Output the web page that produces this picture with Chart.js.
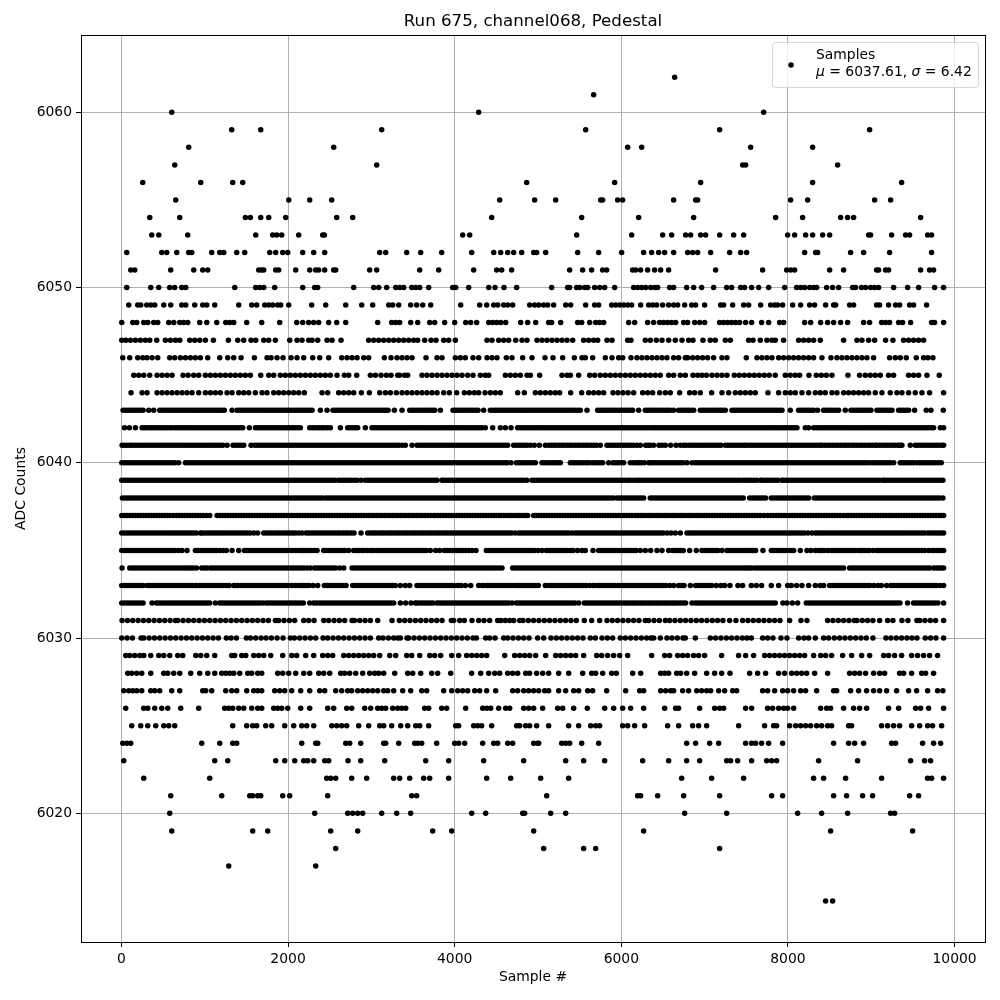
<!DOCTYPE html>
<html>
<head>
<meta charset="utf-8">
<title>Run 675, channel068, Pedestal</title>
<script src="https://cdn.jsdelivr.net/npm/chart.js@4/dist/chart.umd.min.js"></script>
<style>
  html, body { margin: 0; padding: 0; background: #fff; }
  #wrap { position: relative; width: 1000px; height: 1000px; }
</style>
</head>
<body>
<div id="wrap"><canvas id="chart" width="1000" height="1000"></canvas></div>
<script>
// Sample numbers, one list per ADC level
const s6062 = [6640];
const s6061 = [5668];
const s6060 = [604,4288,7708];
const s6059 = [1324,1672,3124,5572,7180,8980];
const s6058 = [808,2548,6076,6244,7552,8296];
const s6057 = [640,3064,7456,7492,8596];
const s6056 = [256,952,1336,1456,4864,5920,6952,8296,9364];
const s6055 = [652,2008,2260,2524,4540,4960,5212,5752,5776,5956,6016,6628,6892,6916,8032,8236,9040,9232];
const s6054 = [340,700,1488,1548,1672,1768,1972,2584,2776,4444,5524,6208,6868,7852,8176,8632,8716,8788,9592];
const s6053 = [364,448,796,1612,1816,1864,1924,2128,2416,2436,4096,4180,5464,6124,6496,6604,6772,6832,6952,7012,7180,7348,7468,7996,8080,8212,8296,8416,8500,8968,8992,9244,9412,9460,9676,9724];
const s6052 = [64,484,544,664,808,844,1084,1180,1228,1384,1480,1780,1852,1936,1996,2176,2308,2440,3100,3172,3424,3592,3844,4204,4468,4552,4636,4708,4804,4948,4984,5092,5476,5728,6004,6268,6364,6448,6520,6628,6796,6856,6916,7072,7300,7432,7504,8200,8332,8356,8752,8908,9220,9724];
const s6051 = [112,160,592,868,976,1036,1648,1680,1708,1852,1888,2092,2260,2332,2368,2440,2548,2572,2980,3064,3580,3808,4228,4504,4564,4684,5380,5536,5644,5776,5824,6136,6172,6232,6316,6400,6472,6568,7132,7696,7984,8032,8080,8500,8668,9064,9088,9172,9208,9592,9700,9748];
const s6050 = [64,352,448,580,640,724,772,1360,1612,1660,1708,1840,2176,2320,2356,2788,3028,3088,3184,3292,3340,3388,3484,3532,3580,3688,3976,4012,4168,4408,4484,4592,4744,5164,5356,5380,5464,5500,5560,5596,5680,5740,5800,5920,6148,6196,6244,6292,6352,6400,6436,6580,6628,6784,6868,6964,7108,7264,7324,7432,7480,7564,7648,7768,7960,8104,8152,8200,8260,8308,8344,8464,8536,8608,8776,8812,8884,8932,8992,9040,9088,9268,9436,9568,9760,9868];
const s6049 = [88,196,232,304,352,400,508,592,724,772,880,976,1024,1120,1408,1564,1624,1720,1768,1816,1876,1912,2008,2284,2452,2692,2884,3016,3208,3256,3328,3472,3544,3616,3712,4072,4300,4384,4468,4516,4588,4636,4696,4900,4960,5008,5068,5116,5188,5332,5392,5572,5680,5728,5884,5932,5980,6028,6076,6124,6232,6328,6376,6424,6496,6568,6628,6676,6760,6844,6892,7000,7192,7228,7336,7468,7528,7672,7792,7840,7876,7936,8056,8152,8260,8320,8452,8548,8572,8740,8788,9064,9100,9208,9292,9340,9460,9508,9664];
const s6048 = [4,136,184,268,316,388,436,568,628,700,748,796,940,1024,1144,1252,1300,1348,1504,1684,1900,2104,2176,2248,2308,2368,2488,2584,2692,3076,3244,3292,3340,3472,3556,3700,3760,3880,4000,4132,4192,4264,4408,4456,4504,4552,4612,4792,4876,4972,5128,5164,5272,5476,5524,5620,5692,5740,5788,6088,6160,6316,6388,6460,6508,6556,6604,6652,6748,6796,6880,6940,7000,7180,7228,7276,7324,7372,7420,7492,7564,7684,7768,7900,7948,8200,8272,8392,8476,8548,8632,8716,8908,8980,9124,9172,9220,9328,9376,9472,9724,9760,9868];
const s6047 = [4,52,108,168,228,288,340,424,528,588,648,700,820,880,940,1008,1104,1284,1396,1468,1556,1612,1708,1768,1848,2020,2108,2168,2248,2288,2356,2468,2528,2636,2968,3028,3088,3148,3208,3268,3328,3388,3448,3508,3556,3640,3716,3776,3868,3928,4008,4388,4448,4528,4588,4648,4732,4808,4868,4988,5048,5108,5168,5228,5288,5348,5416,5548,5608,5668,5716,5828,5888,6076,6116,6288,6348,6420,6488,6568,6648,6728,6808,6860,6980,7068,7128,7248,7308,7528,7580,7668,7748,7808,7848,7948,8128,8188,8248,8308,8388,8668,8828,8888,8968,9040,9172,9260,9388,9448,9508,9568,9628];
const s6046 = [16,100,196,256,308,368,436,580,640,708,768,828,888,948,1036,1180,1276,1348,1436,1596,1748,1796,1868,1940,2036,2108,2188,2296,2380,2488,2644,2708,2768,2828,2908,2968,3156,3236,3308,3368,3428,3488,3656,3788,3848,4008,4068,4128,4220,4288,4388,4448,4508,4620,4688,4816,4928,5084,5180,5296,5436,5528,5568,5656,5808,5888,5968,6016,6116,6188,6248,6308,6368,6428,6488,6548,6628,6688,6768,6796,6856,6916,6976,7036,7108,7208,7268,7500,7628,7688,7748,7808,7888,7948,8008,8068,8128,8188,8248,8308,8408,8516,8588,8648,8708,8768,8828,8888,8948,9028,9220,9288,9348,9420,9540,9628,9680,9740];
const s6045 = [148,208,268,340,428,488,548,608,740,800,868,928,1008,1068,1128,1188,1248,1308,1368,1428,1488,1548,1672,1768,1828,1908,1968,2028,2088,2148,2208,2268,2328,2388,2448,2508,2588,2676,2728,2824,2988,3048,3116,3180,3236,3316,3340,3400,3436,3608,3668,3728,3788,3848,3908,3968,4028,4088,4156,4220,4308,4368,4408,4608,4668,4728,4788,4868,4908,5020,5288,5348,5388,5488,5620,5680,5748,5808,5868,5928,5988,6048,6108,6168,6228,6288,6348,6408,6468,6568,6628,6708,6768,6860,6916,6968,7020,7088,7148,7208,7268,7356,7416,7476,7536,7596,7656,7716,7776,7848,7968,8028,8088,8140,8252,8340,8400,8460,8528,8720,8860,8928,8988,9048,9108,9208,9268,9448,9508,9568,9668,9816];
const s6044 = [116,248,308,428,488,548,608,668,728,788,848,928,1008,1068,1128,1188,1268,1328,1408,1468,1528,1608,1688,1748,1828,1888,1948,2008,2068,2128,2196,2408,2476,2608,2668,2728,2788,2880,2976,3100,3168,3228,3300,3368,3428,3488,3548,3608,3668,3728,3788,3868,3936,4024,4116,4176,4236,4288,4364,4428,4488,4548,4756,4836,4968,5028,5088,5148,5208,5260,5392,5524,5608,5668,5728,5788,5900,5960,6020,6080,6148,6256,6316,6376,6460,6528,6588,6700,6820,6880,6948,7084,7208,7288,7368,7428,7488,7548,7608,7760,7888,7968,8028,8088,8168,8248,8328,8388,8448,8528,8588,8668,8728,8788,8848,8908,8968,9048,9128,9228,9308,9368,9448,9528,9608,9700,9868];
const s6043 = [20,80,140,200,260,328,388,460,520,580,640,700,760,820,880,940,1000,1060,1120,1180,1236,1328,1388,1448,1508,1568,1628,1688,1748,1808,1868,1928,1988,2048,2108,2168,2228,2288,2388,2468,2540,2600,2660,2720,2780,2840,2900,2960,3020,3080,3140,3200,3276,3368,3460,3520,3580,3640,3700,3760,3828,3980,4040,4100,4160,4220,4280,4348,4428,4488,4548,4608,4668,4728,4788,4848,4908,4968,5028,5088,5148,5208,5268,5328,5388,5448,5508,5588,5716,5776,5836,5896,5956,6016,6076,6136,6208,6288,6348,6408,6468,6528,6588,6628,6688,6748,6808,6868,6948,7008,7068,7128,7188,7248,7328,7388,7448,7508,7568,7628,7688,7748,7808,7868,7928,8028,8128,8188,8248,8308,8356,8428,8488,8548,8608,8688,8756,8816,8876,8936,8996,9068,9128,9188,9248,9328,9388,9448,9520,9660,9716,9864];
const s6042 = [36,96,168,248,308,368,428,488,548,608,676,736,796,856,916,976,1036,1096,1156,1216,1276,1336,1396,1456,1536,1608,1668,1728,1788,1848,1908,1968,2028,2088,2148,2260,2320,2380,2440,2508,2628,2716,2776,2836,2928,3008,3068,3128,3188,3248,3308,3368,3428,3488,3548,3608,3668,3728,3788,3848,3908,3968,4028,4088,4148,4208,4268,4328,4368,4456,4548,4608,4676,4756,4816,4876,4936,4996,5056,5116,5176,5236,5296,5356,5416,5476,5536,5596,5656,5716,5776,5836,5896,5956,6016,6076,6136,6196,6256,6316,6376,6428,6488,6548,6608,6668,6728,6788,6848,6908,6968,7028,7088,7148,7208,7268,7328,7388,7448,7508,7568,7628,7688,7748,7808,7868,7928,7988,8048,8108,8208,8248,8308,8368,8428,8488,8548,8608,8668,8728,8788,8848,8908,8968,9028,9088,9148,9208,9268,9328,9388,9448,9508,9568,9628,9688,9748,9828,9868];
const s6041 = [8,68,128,192,256,320,384,448,512,576,640,704,768,832,896,960,1024,1088,1152,1216,1268,1340,1404,1468,1556,1600,1664,1728,1792,1856,1920,1984,2048,2112,2176,2240,2304,2368,2432,2496,2560,2624,2688,2752,2816,2880,2944,3008,3072,3136,3200,3264,3328,3368,3408,3488,3548,3612,3676,3740,3804,3868,3932,3996,4028,4060,4124,4188,4252,4316,4380,4444,4508,4572,4636,4708,4740,4804,4868,4908,4956,5016,5088,5128,5192,5256,5320,5384,5448,5512,5576,5640,5704,5748,5828,5892,5956,6020,6084,6148,6188,6228,6292,6348,6388,6452,6488,6528,6592,6656,6708,6748,6812,6876,6940,7004,7068,7132,7196,7248,7280,7344,7408,7472,7496,7528,7592,7656,7720,7784,7848,7912,7976,8040,8104,8168,8232,8296,8360,8388,8408,8472,8536,8600,8664,8728,8792,8856,8888,8952,9016,9048,9068,9132,9196,9260,9324,9348,9368,9468,9528,9592,9656,9720,9784,9848,9868];
const s6040 = [4,68,132,196,260,324,388,452,516,580,644,688,768,832,896,960,1024,1088,1152,1216,1280,1344,1408,1472,1536,1600,1664,1728,1792,1856,1920,1984,2048,2112,2176,2240,2304,2368,2432,2496,2560,2624,2688,2752,2816,2880,2944,3008,3072,3136,3200,3264,3328,3392,3456,3520,3584,3648,3712,3776,3840,3904,3968,4032,4096,4160,4224,4288,4352,4416,4480,4544,4608,4628,4676,4740,4804,4868,4932,4968,5048,5112,5176,5240,5268,5388,5452,5516,5580,5608,5648,5712,5776,5848,5900,5964,6028,6108,6148,6212,6276,6328,6356,6420,6484,6548,6612,6676,6740,6788,6848,6888,6952,7016,7080,7144,7208,7272,7336,7400,7464,7528,7592,7656,7720,7784,7848,7912,7976,8040,8104,8168,8232,8296,8360,8424,8488,8552,8616,8680,8744,8808,8872,8936,8968,9008,9072,9136,9200,9228,9268,9348,9380,9444,9508,9548,9612,9676,9740,9804,9840];
const s6039 = [4,68,132,196,260,324,388,452,516,580,644,708,772,836,900,964,1028,1092,1156,1220,1284,1348,1412,1476,1540,1604,1668,1732,1796,1860,1924,1988,2052,2116,2180,2244,2308,2372,2436,2500,2564,2608,2636,2700,2764,2828,2876,2928,2992,3056,3120,3184,3248,3312,3376,3440,3504,3568,3596,3660,3724,3788,3848,3868,3932,3996,4060,4124,4188,4252,4316,4380,4444,4508,4572,4636,4700,4764,4828,4868,4928,4992,5056,5120,5184,5248,5312,5376,5440,5504,5568,5632,5696,5760,5824,5888,5952,6016,6080,6108,6148,6212,6276,6340,6404,6468,6532,6596,6660,6724,6788,6852,6916,6980,7044,7108,7172,7236,7300,7364,7428,7468,7496,7560,7624,7668,7688,7752,7816,7880,7928,7948,8012,8076,8140,8204,8268,8332,8396,8460,8524,8588,8652,8716,8780,8844,8908,8972,9036,9100,9140,9156,9220,9284,9348,9412,9476,9540,9604,9668,9732,9796,9860];
const s6038 = [12,76,140,204,268,332,396,460,524,588,652,716,780,844,908,972,1036,1100,1164,1228,1292,1356,1420,1484,1548,1612,1676,1740,1804,1868,1932,1996,2060,2124,2188,2252,2316,2380,2408,2448,2512,2576,2640,2704,2768,2832,2896,2960,3024,3088,3152,3216,3280,3344,3408,3472,3536,3600,3664,3728,3792,3856,3920,3984,4048,4112,4176,4240,4304,4368,4432,4496,4560,4624,4688,4752,4816,4880,4944,5008,5072,5136,5200,5264,5328,5392,5456,5520,5584,5648,5712,5776,5840,5904,5948,6012,6076,6140,6204,6268,6348,6376,6440,6504,6568,6632,6696,6760,6824,6888,6952,7016,7080,7144,7208,7272,7336,7400,7464,7540,7604,7668,7732,7800,7864,7928,7992,8056,8120,8184,8248,8316,8380,8444,8508,8572,8636,8700,8764,8828,8892,8956,9020,9084,9148,9212,9276,9340,9404,9468,9532,9596,9660,9724,9788,9860];
const s6037 = [4,68,132,196,260,324,388,452,516,580,620,660,724,788,852,916,980,1020,1060,1148,1180,1244,1308,1372,1436,1500,1564,1628,1692,1756,1820,1884,1948,2012,2076,2140,2204,2268,2332,2396,2460,2524,2588,2652,2716,2780,2844,2908,2972,3036,3100,3164,3228,3292,3356,3420,3484,3548,3612,3676,3748,3768,3832,3896,3960,4024,4088,4152,4216,4280,4344,4408,4472,4528,4556,4620,4684,4748,4812,4876,4948,4976,5040,5104,5168,5232,5296,5360,5424,5488,5552,5616,5680,5744,5808,5872,5936,6000,6064,6128,6168,6196,6260,6324,6388,6452,6516,6580,6644,6708,6772,6836,6900,6964,7028,7092,7156,7220,7284,7348,7412,7476,7540,7604,7668,7756,7796,7860,7924,7988,8052,8116,8180,8244,8308,8372,8436,8500,8564,8628,8708,8728,8792,8856,8920,8984,9048,9112,9176,9208,9236,9300,9364,9428,9492,9556,9620,9684,9748,9812,9868];
const s6036 = [4,68,132,196,260,324,388,452,516,580,644,708,772,836,900,948,968,1032,1096,1160,1224,1288,1352,1416,1480,1544,1636,1708,1772,1836,1900,1964,2028,2092,2168,2216,2280,2344,2408,2472,2536,2600,2664,2728,2792,2876,2956,3020,3084,3148,3212,3276,3340,3404,3468,3532,3596,3660,3724,3788,3852,3916,3980,4044,4108,4172,4236,4300,4364,4428,4492,4556,4620,4684,4768,4796,4860,4924,4988,5052,5116,5180,5244,5308,5372,5448,5480,5544,5608,5672,5736,5800,5864,5928,5992,6056,6120,6184,6248,6312,6376,6440,6504,6596,6648,6708,6788,6852,6916,6980,7044,7108,7172,7236,7300,7364,7428,7492,7556,7620,7684,7748,7812,7876,7940,8004,8068,8132,8196,8288,8328,8392,8456,8520,8584,8648,8712,8776,8840,8904,8968,9032,9096,9160,9224,9288,9352,9416,9480,9544,9608,9640,9680,9744,9808,9868];
const s6035 = [4,68,132,196,260,324,388,452,516,580,644,728,788,888,952,1016,1080,1144,1220,1260,1328,1408,1476,1540,1604,1668,1732,1796,1860,1924,1988,2052,2128,2156,2220,2284,2348,2428,2492,2556,2620,2684,2728,2788,2852,2916,2996,3028,3092,3156,3220,3284,3348,3412,3476,3540,3604,3660,3708,3772,3820,3876,3940,4004,4068,4132,4208,4256,4380,4444,4508,4572,4636,4700,4764,4828,4892,4956,5048,5100,5164,5228,5292,5356,5420,5528,5568,5660,5728,5792,5856,5920,5984,6048,6112,6176,6228,6288,6352,6428,6488,6568,6616,6680,6744,6820,6900,6968,7032,7096,7160,7208,7268,7332,7396,7460,7520,7548,7612,7700,7800,7864,7928,7992,8068,8148,8228,8276,8328,8368,8432,8516,8548,8612,8676,8740,8808,8848,8912,8976,9068,9096,9160,9224,9288,9352,9416,9480,9544,9608,9688,9728,9792,9868];
const s6034 = [8,100,164,228,292,356,420,484,548,612,676,740,804,860,900,964,1028,1068,1132,1196,1260,1324,1388,1420,1484,1548,1612,1676,1740,1804,1868,1932,1996,2060,2124,2188,2268,2316,2380,2444,2508,2572,2668,2768,2832,2896,2960,3024,3088,3152,3216,3280,3344,3408,3472,3536,3600,3664,3728,3792,3856,3920,3984,4048,4112,4176,4240,4304,4368,4432,4496,4568,4696,4760,4824,4888,4952,5016,5080,5144,5208,5272,5336,5400,5464,5528,5592,5656,5720,5784,5848,5912,5976,6040,6104,6168,6232,6296,6360,6424,6488,6552,6616,6680,6744,6808,6872,6936,7000,7064,7128,7192,7256,7320,7384,7448,7512,7568,7608,7672,7736,7800,7864,7928,7992,8056,8120,8184,8248,8312,8376,8440,8504,8568,8632,8668,8740,8804,8868,8932,8996,9060,9124,9188,9252,9316,9380,9444,9508,9572,9636,9700,9748,9812,9868];
const s6033 = [4,68,132,196,260,308,340,404,468,532,596,660,724,788,852,888,908,972,1036,1100,1164,1228,1292,1348,1368,1432,1496,1560,1624,1688,1752,1816,1880,1944,2008,2088,2124,2188,2252,2300,2356,2436,2500,2564,2628,2696,2776,2840,2904,2968,3032,3096,3160,3224,3288,3348,3408,3460,3548,3612,3676,3740,3804,3868,3932,3996,4076,4128,4192,4288,4328,4392,4456,4520,4584,4648,4716,4748,4812,4876,4940,5004,5088,5128,5192,5256,5320,5384,5448,5512,5576,5660,5700,5764,5828,5892,5956,6020,6084,6148,6212,6276,6340,6404,6468,6532,6628,6688,6752,6828,6892,6956,7020,7084,7196,7240,7304,7400,7456,7560,7620,7684,7800,7888,7996,8040,8104,8168,8248,8328,8388,8428,8500,8536,8600,8664,8728,8792,8856,8920,8984,9080,9120,9184,9236,9268,9332,9396,9460,9524,9588,9652,9716,9780,9868];
const s6032 = [4,68,132,196,260,368,420,484,548,612,676,740,804,868,932,996,1060,1128,1180,1244,1308,1372,1436,1500,1564,1628,1696,1736,1800,1864,1928,1992,2056,2120,2184,2260,2308,2372,2436,2500,2564,2628,2692,2756,2820,2884,2948,3012,3076,3140,3204,3268,3348,3412,3476,3528,3548,3612,3676,3740,3788,3816,3880,3944,4008,4072,4136,4200,4264,4328,4392,4456,4520,4584,4648,4688,4740,4804,4868,4932,4996,5060,5124,5188,5252,5316,5380,5444,5488,5556,5620,5684,5748,5812,5876,5940,6004,6068,6132,6196,6260,6324,6388,6452,6516,6580,6644,6708,6772,6848,6888,6952,7016,7080,7144,7208,7272,7336,7400,7464,7528,7592,7656,7720,7784,7848,7940,7988,8052,8116,8220,8256,8320,8384,8448,8512,8576,8640,8704,8768,8832,8896,8960,9024,9088,9152,9216,9280,9344,9436,9508,9572,9636,9700,9764,9868];
const s6031 = [8,72,136,200,264,328,392,456,520,584,648,676,740,804,868,932,996,1060,1124,1188,1252,1316,1380,1444,1508,1572,1636,1700,1764,1848,1888,1952,2016,2080,2188,2248,2312,2428,2488,2552,2616,2680,2768,2796,2860,2924,2988,3076,3248,3336,3400,3464,3528,3592,3656,3720,3784,3848,3960,3988,4060,4116,4208,4288,4352,4420,4516,4556,4608,4660,4708,4780,4820,4884,4948,5012,5076,5140,5204,5268,5332,5396,5460,5556,5644,5740,5828,5892,5956,6020,6084,6148,6212,6288,6328,6392,6456,6528,6580,6644,6708,6772,6836,6900,6964,7028,7092,7156,7220,7300,7376,7456,7520,7584,7648,7712,7776,7840,7904,8020,8156,8228,8476,8540,8604,8668,8732,8796,8828,8892,8956,9020,9100,9196,9260,9368,9440,9548,9580,9644,9708,9772,9868];
const s6030 = [4,68,132,236,268,332,396,460,524,588,652,716,780,844,908,972,1036,1100,1164,1260,1316,1380,1500,1548,1612,1676,1736,1800,1868,1940,2028,2076,2140,2204,2268,2332,2420,2476,2540,2604,2668,2732,2796,2860,2924,2988,3088,3140,3204,3268,3316,3348,3428,3448,3512,3576,3640,3704,3768,3832,3896,3960,4024,4088,4152,4220,4260,4372,4420,4484,4588,4636,4700,4764,4828,4892,4996,5068,5156,5220,5284,5348,5412,5476,5540,5628,5688,5768,5832,5896,5988,6048,6112,6176,6240,6304,6356,6388,6468,6548,6608,6672,6740,6768,6888,7068,7132,7196,7260,7324,7388,7452,7508,7560,7696,7756,7820,7916,7988,8128,8192,8248,8328,8428,8488,8556,8620,8684,8748,8812,8876,8940,9020,9176,9236,9300,9364,9428,9488,9548,9648,9712,9776,9868];
const s6029 = [52,100,160,220,268,352,448,508,580,676,736,892,952,1024,1120,1324,1360,1444,1492,1588,1648,1708,1792,1936,2044,2104,2212,2308,2416,2476,2536,2668,2728,2788,2848,2908,2968,3028,3100,3220,3292,3424,3484,3580,3700,3760,3832,3964,4048,4144,4204,4264,4324,4384,4600,4720,4780,4840,4900,4972,5092,5212,5272,5332,5392,5452,5548,5704,5764,5836,5908,5980,6076,6364,6520,6580,6676,6736,6796,6868,6928,7000,7204,7408,7492,7588,7720,7780,7840,7900,7960,8020,8080,8140,8200,8308,8392,8452,8524,8656,8764,8884,8980,9148,9208,9280,9364,9484,9556,9628,9700,9796];
const s6028 = [76,124,184,244,352,508,556,628,700,832,940,1036,1120,1204,1252,1300,1348,1420,1516,1564,1636,1684,1876,1936,2008,2092,2188,2260,2368,2428,2500,2632,2680,2740,2812,2896,2980,3040,3088,3148,3280,3436,3496,3592,3724,3796,3952,4204,4312,4408,4480,4540,4636,4696,4756,4852,4900,4984,5056,5128,5248,5368,5536,5644,5692,5776,5884,5940,6136,6232,6472,6520,6568,6664,6712,6784,6880,7024,7120,7204,7304,7540,7636,7732,7888,7960,8044,8104,8164,8224,8320,8476,8740,8800,8860,8932,9028,9100,9160,9340,9388,9484,9604,9652,9748];
const s6027 = [28,88,136,184,244,352,400,460,604,700,976,1012,1084,1252,1324,1384,1504,1588,1636,1684,1840,1900,1960,2044,2152,2260,2380,2440,2572,2644,2716,2764,2836,2896,2956,3016,3076,3148,3196,3268,3376,3472,3604,3664,3868,3964,4036,4096,4156,4240,4300,4384,4492,4696,4756,4828,4888,4948,5008,5080,5128,5248,5332,5428,5488,5596,5656,5824,6052,6220,6268,6472,6532,6592,6628,6736,6808,6904,6964,7024,7072,7168,7240,7336,7384,7696,7756,7840,7936,7996,8068,8152,8212,8344,8548,8584,8752,8848,8944,9028,9100,9184,9304,9448,9544,9676,9796,9860];
const s6026 = [52,268,316,400,484,556,712,928,1240,1288,1336,1408,1468,1564,1636,1684,1828,1876,1924,1996,2152,2260,2476,2548,2704,2764,2920,2992,3076,3124,3172,3256,3316,3364,3412,3640,3688,3844,3904,4132,4336,4384,4432,4528,4612,4660,4828,4888,4948,5056,5236,5296,5428,5592,5800,5908,6016,6112,6268,6520,6652,6688,6940,7120,7180,7228,7492,7564,7756,7816,7888,7948,7996,8068,8392,8464,8512,8668,8788,8860,8944,9208,9328,9532,9592,9688,9868];
const s6025 = [124,232,316,412,508,568,640,1336,1504,1576,1624,1732,1804,1960,2068,2164,2224,2308,2524,2584,2644,2704,2848,2968,3100,3148,3244,3352,3436,3532,3580,3688,4012,4048,4228,4276,4324,4444,4744,4780,4852,4900,4984,5128,5368,5488,5632,5692,5740,6016,6076,6160,6280,6556,6688,6856,6928,7024,7408,7720,7828,7864,8020,8092,8152,8212,8272,8344,8404,8476,8524,8728,8764,9124,9196,9268,9340,9484,9580,9676,9736,9844];
const s6024 = [16,64,112,964,1180,1336,1384,2164,2332,2356,2692,2740,2872,3148,3172,3328,3520,3556,3604,3784,4000,4048,4120,4336,4468,4516,4636,4696,4948,4996,5008,5284,5332,5380,5524,5728,6784,6892,7060,7168,7492,7564,7612,7684,7768,7936,8548,8728,8800,8908,9244,9292,9616,9748,9832];
const s6023 = [28,1120,1276,1852,1960,2080,2188,2236,2308,2440,2488,2720,2872,3160,3652,3928,4348,4828,5332,5548,5800,6256,6568,6784,6940,7264,7312,7396,7564,7744,7804,7864,8368,8836,9472,9640,9712];
const s6022 = [268,1060,2464,2512,2572,2764,2944,3268,3340,3460,3628,3700,3928,4384,4672,5032,5368,6724,7084,7468,8308,8428,8692,9124,9676,9724,9868];
const s6021 = [592,1204,1540,1576,1636,1672,1936,2020,2476,3484,3544,5104,6196,6232,6436,6748,7180,7804,7936,8548,8704,8896,9016,9460,9568];
const s6020 = [580,2320,2716,2776,2836,2896,3124,3304,3472,4204,4372,4816,4840,5152,5332,6760,7264,8116,8404,8716,9232,9280];
const s6019 = [604,1576,1756,2512,2836,3736,3964,4948,6268,8512,9496];
const s6018 = [2572,5068,5548,5692,7180];
const s6017 = [1288,2332];
const s6015 = [8452,8536];

// the busiest levels carry more samples than one pass could separate, second pass
const more6043 = [50,110,170,230,490,550,610,670,730,790,850,910,970,1030,1090,1150,1208,1418,1478,1538,1598,1658,1718,1778,1838,1898,1958,2018,2078,2138,2198,2258,2570,2630,2690,2750,2810,2870,2930,2990,3050,3110,3170,3490,3550,3610,3670,3730,4010,4070,4130,4190,4250,4458,4518,4578,4638,4698,4758,4818,4878,4938,4998,5058,5118,5178,5238,5298,5358,5418,5478,5746,5806,5866,5926,5986,6046,6106,6318,6378,6438,6498,6558,6718,6778,6838,6978,7038,7098,7158,7218,7358,7418,7478,7538,7598,7658,7718,7778,7838,7898,8158,8218,8278,8458,8518,8578,8786,8846,8906,8966,9098,9158,9218,9358,9418];
const more6042 = [276,340,400,460,520,580,644,706,766,826,886,946,1006,1066,1126,1186,1246,1306,1366,1426,1636,1698,1758,1818,1878,1938,1998,2058,2118,2290,2350,2410,2474,2746,2806,3038,3098,3158,3218,3278,3338,3398,3458,3518,3578,3638,3698,3758,3818,3878,3938,3998,4058,4118,4178,4238,4298,4786,4846,4906,4966,5026,5086,5146,5206,5266,5326,5386,5446,5506,5566,5626,5686,5746,5806,5866,5926,5986,6046,6106,6166,6226,6286,6346,6402,6458,6518,6578,6638,6698,6758,6818,6878,6938,6998,7058,7118,7178,7238,7298,7358,7418,7478,7538,7598,7658,7718,7778,7838,7898,7958,8018,8078,8338,8398,8458,8518,8578,8638,8698,8758,8818,8878,8938,8998,9058,9118,9178,9238,9298,9358,9418,9478,9538,9598,9658,9718];
const more6041 = [38,100,160,224,288,352,416,480,544,608,672,736,800,864,928,992,1056,1120,1184,1372,1436,1632,1696,1760,1824,1888,1952,2016,2080,2144,2208,2272,2336,2400,2464,2528,2592,2656,2720,2784,2848,2912,2976,3040,3104,3168,3232,3296,3580,3644,3708,3772,3836,3900,3964,4092,4156,4220,4284,4348,4412,4476,4540,4604,4772,4836,5160,5224,5288,5352,5416,5480,5544,5608,5672,5860,5924,5988,6052,6116,6320,6776,6844,6908,6972,7036,7100,7164,7312,7376,7440,7560,7624,7688,7752,7816,7880,7944,8008,8072,8136,8200,8264,8328,8440,8504,8568,8632,8696,8760,8824,8920,8984,9100,9164,9228,9292,9560,9624,9688,9752,9816];
const more6040 = [36,100,164,228,292,356,420,484,548,612,800,864,928,992,1056,1120,1184,1248,1312,1376,1440,1504,1568,1632,1696,1760,1824,1888,1952,2016,2080,2144,2208,2272,2336,2400,2464,2528,2592,2656,2720,2784,2848,2912,2976,3040,3104,3168,3232,3296,3360,3424,3488,3552,3616,3680,3744,3808,3872,3936,4000,4064,4128,4192,4256,4320,4384,4448,4512,4576,4772,4836,4900,5080,5144,5208,5420,5484,5548,5680,5744,5932,5996,6180,6244,6388,6452,6516,6580,6644,6708,6920,6984,7048,7112,7176,7240,7304,7368,7432,7496,7560,7624,7688,7752,7816,7880,7944,8008,8072,8136,8200,8264,8328,8392,8456,8520,8584,8648,8712,8776,8840,8904,9040,9104,9168,9412,9476,9580,9644,9708,9772];
const more6039 = [36,100,164,228,292,356,420,484,548,612,676,740,804,868,932,996,1060,1124,1188,1252,1316,1380,1444,1508,1572,1636,1700,1764,1828,1892,1956,2020,2084,2148,2212,2276,2340,2404,2468,2532,2668,2732,2796,2960,3024,3088,3152,3216,3280,3344,3408,3472,3536,3628,3692,3756,3900,3964,4028,4092,4156,4220,4284,4348,4412,4476,4540,4604,4668,4732,4796,4960,5024,5088,5152,5216,5280,5344,5408,5472,5536,5600,5664,5728,5792,5856,5920,5984,6048,6180,6244,6308,6372,6436,6500,6564,6628,6692,6756,6820,6884,6948,7012,7076,7140,7204,7268,7332,7396,7528,7592,7720,7784,7848,7980,8044,8108,8172,8236,8300,8364,8428,8492,8556,8620,8684,8748,8812,8876,8940,9004,9068,9188,9252,9316,9380,9444,9508,9572,9636,9700,9764,9828];
const more6038 = [44,108,172,236,300,364,428,492,556,620,684,748,812,876,940,1004,1068,1132,1196,1260,1324,1388,1452,1516,1580,1644,1708,1772,1836,1900,1964,2028,2092,2156,2220,2284,2348,2480,2544,2608,2672,2736,2800,2864,2928,2992,3056,3120,3184,3248,3312,3376,3440,3504,3568,3632,3696,3760,3824,3888,3952,4016,4080,4144,4208,4272,4336,4400,4464,4528,4592,4656,4720,4784,4848,4912,4976,5040,5104,5168,5232,5296,5360,5424,5488,5552,5616,5680,5744,5808,5872,5980,6044,6108,6172,6236,6408,6472,6536,6600,6664,6728,6792,6856,6920,6984,7048,7112,7176,7240,7304,7368,7432,7572,7636,7700,7832,7896,7960,8024,8088,8152,8216,8348,8412,8476,8540,8604,8668,8732,8796,8860,8924,8988,9052,9116,9180,9244,9308,9372,9436,9500,9564,9628,9692,9756,9820];
const more6037 = [36,100,164,228,292,356,420,484,548,692,756,820,884,948,1212,1276,1340,1404,1468,1532,1596,1660,1724,1788,1852,1916,1980,2044,2108,2172,2236,2300,2364,2428,2492,2556,2620,2684,2748,2812,2876,2940,3004,3068,3132,3196,3260,3324,3388,3452,3516,3580,3644,3712,3800,3864,3928,3992,4056,4120,4184,4248,4312,4376,4440,4500,4588,4652,4716,4780,4844,5008,5072,5136,5200,5264,5328,5392,5456,5520,5584,5648,5712,5776,5840,5904,5968,6032,6096,6228,6292,6356,6420,6484,6548,6612,6676,6740,6804,6868,6932,6996,7060,7124,7188,7252,7316,7380,7444,7508,7572,7636,7712,7828,7892,7956,8020,8084,8148,8212,8276,8340,8404,8468,8532,8596,8668,8760,8824,8888,8952,9016,9080,9144,9268,9332,9396,9460,9524,9588,9652,9716,9780,9840];
const more6036 = [36,100,164,228,292,356,420,484,548,612,676,740,804,868,1000,1064,1128,1192,1256,1320,1384,1448,1512,1590,1740,1804,1868,1932,1996,2060,2130,2248,2312,2376,2440,2504,2568,2632,2696,2760,2988,3052,3116,3180,3244,3308,3372,3436,3500,3564,3628,3692,3756,3820,3884,3948,4012,4076,4140,4204,4268,4332,4396,4460,4524,4588,4652,4726,4828,4892,4956,5020,5084,5148,5212,5276,5340,5410,5512,5576,5640,5704,5768,5832,5896,5960,6024,6088,6152,6216,6280,6344,6408,6472,6550,6820,6884,6948,7012,7076,7140,7204,7268,7332,7396,7460,7524,7588,7652,7716,7780,7844,7908,7972,8036,8100,8164,8240,8360,8424,8488,8552,8616,8680,8744,8808,8872,8936,9000,9064,9128,9192,9256,9320,9384,9448,9512,9576,9712,9776,9838];
const more6035 = [36,100,164,228,292,356,420,484,548,612,686,920,984,1048,1112,1182,1508,1572,1636,1700,1764,1828,1892,1956,2020,2090,2188,2252,2316,2460,2524,2588,2652,2820,2884,2956,3060,3124,3188,3252,3316,3380,3444,3508,3572,3632,3908,3972,4036,4100,4170,4412,4476,4540,4604,4668,4732,4796,4860,4924,5000,5132,5196,5260,5324,5388,5474,5760,5824,5888,5952,6016,6080,6144,6648,6712,7000,7064,7128,7300,7364,7428,7490,7580,7832,7896,7960,8030,8400,8474,8580,8644,8708,8774,8880,8944,9022,9128,9192,9256,9320,9384,9448,9512,9576,9640,9760,9830];
const more6034 = [132,196,260,324,388,452,516,580,644,708,772,832,996,1100,1164,1228,1292,1356,1452,1516,1580,1644,1708,1772,1836,1900,1964,2028,2092,2156,2228,2348,2412,2476,2540,2620,2800,2864,2928,2992,3056,3120,3184,3248,3312,3376,3440,3504,3568,3632,3696,3760,3824,3888,3952,4016,4080,4144,4208,4272,4336,4400,4464,4532,4728,4792,4856,4920,4984,5048,5112,5176,5240,5304,5368,5432,5496,5560,5624,5688,5752,5816,5880,5944,6008,6072,6136,6200,6264,6328,6392,6456,6520,6584,6648,6712,6776,6840,6904,6968,7032,7096,7160,7224,7288,7352,7416,7480,7540,7640,7704,7768,7832,7896,7960,8024,8088,8152,8216,8280,8344,8408,8472,8536,8600,8772,8836,8900,8964,9028,9092,9156,9220,9284,9348,9412,9476,9540,9604,9668,9780,9840];
const more6033 = [36,100,164,228,372,436,500,564,628,692,756,820,940,1004,1068,1132,1196,1260,1400,1464,1528,1592,1656,1720,1784,1848,1912,1976,2048,2156,2220,2468,2532,2596,2660,2808,2872,2936,3000,3064,3128,3192,3256,3580,3644,3708,3772,3836,3900,3964,4036,4360,4424,4488,4552,4616,4682,4780,4844,4908,4972,5160,5224,5288,5352,5416,5480,5544,5618,5732,5796,5860,5924,5988,6052,6116,6180,6244,6308,6372,6436,6500,6580,6720,6924,6988,7052,7140,8568,8632,8696,8760,8824,8888,8952,9030,9300,9364,9428,9492,9556,9620,9684,9748,9824];
const more6032 = [36,100,164,228,452,516,580,644,708,772,836,900,964,1028,1212,1276,1340,1404,1468,1532,1596,1660,1768,1832,1896,1960,2024,2088,2152,2340,2404,2468,2532,2596,2660,2724,2788,2852,2916,2980,3044,3108,3172,3236,3580,3644,3708,3848,3912,3976,4040,4104,4168,4232,4296,4360,4424,4488,4552,4616,4772,4836,4900,4964,5028,5092,5156,5220,5284,5348,5412,5588,5652,5716,5780,5844,5908,5972,6036,6100,6164,6228,6292,6356,6420,6484,6548,6612,6676,6740,6920,6984,7048,7112,7176,7240,7304,7368,7432,7496,7560,7624,7688,7752,7816,8288,8352,8416,8480,8544,8608,8672,8736,8800,8864,8928,8992,9056,9120,9184,9248,9312,9540,9604,9668,9732,9800];

const levels = [6062,6061,6060,6059,6058,6057,6056,6055,6054,6053,6052,6051,6050,6049,6048,6047,6046,6045,6044,6043,6042,6041,6040,6039,6038,6037,6036,6035,6034,6033,6032,6031,6030,6029,6028,6027,6026,6025,6024,6023,6022,6021,6020,6019,6018,6017,6015,6043,6042,6041,6040,6039,6038,6037,6036,6035,6034,6033,6032];
const sampleLists = [s6062,s6061,s6060,s6059,s6058,s6057,s6056,s6055,s6054,s6053,s6052,s6051,s6050,s6049,s6048,s6047,s6046,s6045,s6044,s6043,s6042,s6041,s6040,s6039,s6038,s6037,s6036,s6035,s6034,s6033,s6032,s6031,s6030,s6029,s6028,s6027,s6026,s6025,s6024,s6023,s6022,s6021,s6020,s6019,s6018,s6017,s6015,more6043,more6042,more6041,more6040,more6039,more6038,more6037,more6036,more6035,more6034,more6033,more6032];

const xTicks = [0,2000,4000,6000,8000,10000];
const yTicks = [6020,6030,6040,6050,6060];
const titleText = 'Run 675, channel068, Pedestal';
const seriesName = 'Samples';
const meanText = '6037.61';
const sigmaText = '6.42';

const FONT = '"DejaVu Sans", sans-serif';

const points = [];
levels.forEach(function(level, i) {
  sampleLists[i].forEach(function(s) { points.push({ x: s, y: level }); });
});

// top and right spines, plus the legend box matplotlib puts inside the axes
const framePlugin = {
  id: 'frame',
  afterDraw(chart) {
    const ctx = chart.ctx;
    const a = chart.chartArea;
    ctx.save();
    ctx.strokeStyle = '#000';
    ctx.lineWidth = 1;
    ctx.strokeRect(Math.round(a.left) + 0.5, Math.round(a.top) + 0.5, Math.round(a.right - a.left), Math.round(a.bottom - a.top));

    const bx = 772.5, by = 42.5, bw = 206, bh = 45;
    ctx.fillStyle = 'rgba(255,255,255,0.8)';
    ctx.strokeStyle = 'rgba(204,204,204,0.8)';
    ctx.beginPath();
    ctx.roundRect(bx, by, bw, bh, 3);
    ctx.fill();
    ctx.stroke();

    ctx.fillStyle = '#000';
    ctx.beginPath();
    ctx.arc(791, 65, 2.75, 0, Math.PI * 2);
    ctx.fill();

    ctx.fillStyle = '#000';
    ctx.textBaseline = 'alphabetic';
    ctx.textAlign = 'left';
    ctx.font = '13.9px ' + FONT;
    ctx.fillText(seriesName, 816, 59);
    let x = 816;
    const parts = [['\u03bc', true], [' = ' + meanText + ', ', false], ['\u03c3', true], [' = ' + sigmaText, false]];
    parts.forEach(function(p) {
      ctx.font = (p[1] ? 'italic ' : '') + '13.9px ' + FONT;
      ctx.fillText(p[0], x, 76);
      x += ctx.measureText(p[0]).width;
    });
    ctx.restore();
  }
};

new Chart(document.getElementById('chart'), {
  type: 'scatter',
  data: {
    datasets: [{
      label: seriesName,
      data: points,
      pointRadius: 2.75,
      pointHoverRadius: 2.75,
      pointBorderWidth: 0,
      pointBackgroundColor: '#000',
      showLine: false
    }]
  },
  options: {
    responsive: false,
    animation: false,
    layout: { padding: { left: 0, right: 15, top: 0, bottom: 0 } },
    plugins: {
      legend: { display: false },
      tooltip: { enabled: false },
      title: {
        display: true,
        fullSize: false,
        text: titleText,
        color: '#000',
        font: { family: FONT, size: 16.67, weight: 'normal' },
        padding: { top: 12, bottom: 3 }
      }
    },
    scales: {
      x: {
        type: 'linear',
        min: -485,
        max: 10365,
        afterBuildTicks(axis) { axis.ticks = xTicks.map(function(v) { return { value: v }; }); },
        afterFit(axis) { axis.height = 58; },
        grid: { color: '#b0b0b0', lineWidth: 1, tickColor: '#000', tickLength: 5 },
        border: { color: '#000', width: 1 },
        ticks: { color: '#000', font: { family: FONT, size: 13.9 }, maxRotation: 0, padding: 4, callback: function(v) { return String(v); } },
        title: { display: true, text: 'Sample #', color: '#000', font: { family: FONT, size: 13.9 }, padding: { top: 4, bottom: 14 } }
      },
      y: {
        type: 'linear',
        min: 6012.66,
        max: 6064.41,
        afterBuildTicks(axis) { axis.ticks = yTicks.map(function(v) { return { value: v }; }); },
        afterFit(axis) { axis.width = 81; },
        grid: { color: '#b0b0b0', lineWidth: 1, tickColor: '#000', tickLength: 5 },
        border: { color: '#000', width: 1 },
        ticks: { color: '#000', font: { family: FONT, size: 13.9 }, padding: 4, callback: function(v) { return String(v); } },
        title: { display: true, text: 'ADC Counts', color: '#000', font: { family: FONT, size: 13.9 }, padding: { top: 13, bottom: 0 } }
      }
    }
  },
  plugins: [framePlugin]
});
</script>
</body>
</html>
